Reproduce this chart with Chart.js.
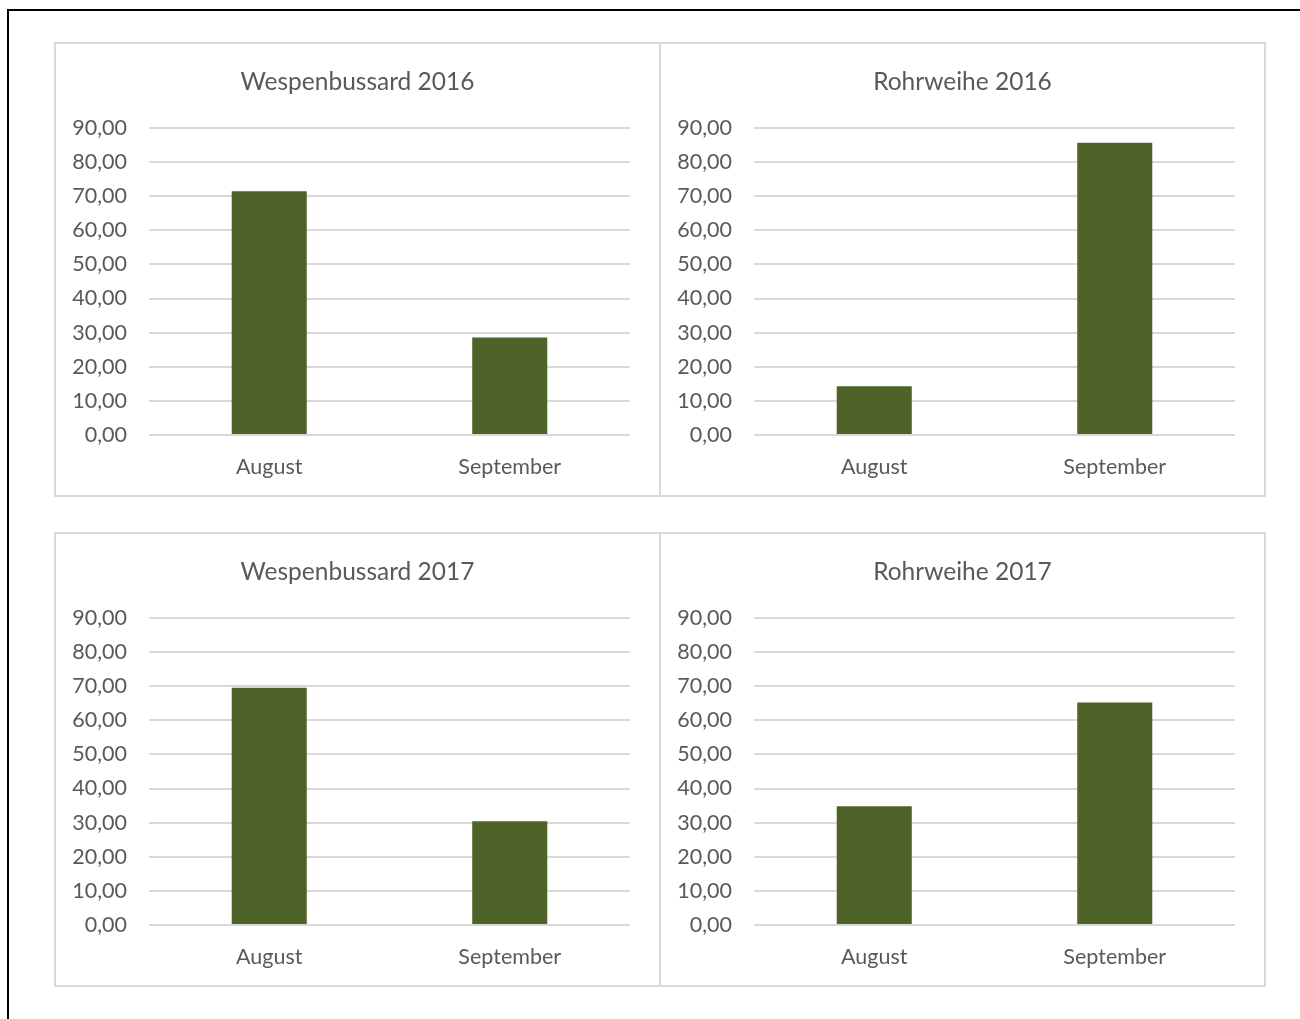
<!DOCTYPE html>
<html>
<head>
<meta charset="utf-8">
<script src="https://cdn.jsdelivr.net/npm/chart.js@4.4.1/dist/chart.umd.min.js"></script>
<style>
  body { margin: 0; background: #fff; width: 1300px; height: 1019px; position: relative; overflow: hidden; }
  #frame { position: absolute; left: 7px; top: 9px; width: 1400px; height: 1100px;
           border-left: 2px solid #000; border-top: 2px solid #000; }
  .panel { position: absolute; width: 607px; height: 455px; box-sizing: border-box;
           border: 2px solid #d9d9d9; background: #fff; }
  .panel canvas { display: block; }
</style>
</head>
<body>
<div id="frame"></div>
<div class="panel" style="left:54px; top:42px;"><canvas id="wb2016"></canvas></div>
<div class="panel" style="left:659px; top:42px;"><canvas id="rw2016"></canvas></div>
<div class="panel" style="left:54px; top:532px;"><canvas id="wb2017"></canvas></div>
<div class="panel" style="left:659px; top:532px;"><canvas id="rw2017"></canvas></div>
<script>
// Monate
const months = ["August", "September"];

// Anteile je Monat (%)
const wespenbussard2016 = [71.43, 28.57];
const rohrweihe2016 = [14.29, 85.71];
const wespenbussard2017 = [69.57, 30.43];
const rohrweihe2017 = [34.78, 65.22];

const yMin = 0;
const yMax = 90;
const yStep = 10;

const barColor = "#4f6228";
const textColor = "#595959";
const gridColor = "#d9d9d9";
const fontFamily = "Lato, 'Open Sans', sans-serif";

function fmt(v) {
    return v.toFixed(2).replace(".", ",");
}

function makeChart(id, title, values) {
    return new Chart(id, {
        type: "bar",
        data: {
            labels: months,
            datasets: [{
                label: title,
                data: values,
                backgroundColor: barColor,
                barPercentage: 1,
                categoryPercentage: 0.312
            }]
        },
        options: {
            responsive: false,
            animation: false,
            layout: { padding: 0 },
            plugins: {
                legend: { display: false },
                tooltip: { enabled: false },
                title: {
                    display: true,
                    text: title,
                    color: textColor,
                    font: { family: fontFamily, size: 24.5, weight: "normal", lineHeight: 1.2 },
                    padding: { top: 23, bottom: 31.6 }
                }
            },
            scales: {
                x: {
                    grid: { display: false, drawTicks: false },
                    border: { display: false },
                    ticks: { color: textColor, font: { family: fontFamily, size: 21.5 }, padding: 19 },
                    afterFit: function (scale) { scale.height = 60; }
                },
                y: {
                    min: yMin,
                    max: yMax,
                    ticks: {
                        stepSize: yStep,
                        color: textColor,
                        font: { family: fontFamily, size: 21.5 },
                        padding: 22,
                        callback: function (v) { return fmt(v); }
                    },
                    grid: { color: gridColor, lineWidth: 2, drawTicks: false },
                    border: { display: false },
                    afterFit: function (scale) { scale.width = 93; }
                },
                // leerer Rand rechts, damit der Titel mittig über dem Panel steht
                yRight: {
                    position: "right",
                    ticks: { display: false },
                    grid: { display: false, drawTicks: false },
                    border: { display: false },
                    afterFit: function (scale) { scale.width = 29; }
                }
            }
        }
    });
}

for (const id of ["wb2016", "rw2016", "wb2017", "rw2017"]) {
    const c = document.getElementById(id);
    c.width = 603;
    c.height = 451;
}

makeChart("wb2016", "Wespenbussard 2016", wespenbussard2016);
makeChart("rw2016", "Rohrweihe 2016", rohrweihe2016);
makeChart("wb2017", "Wespenbussard 2017", wespenbussard2017);
makeChart("rw2017", "Rohrweihe 2017", rohrweihe2017);
</script>
</body>
</html>
